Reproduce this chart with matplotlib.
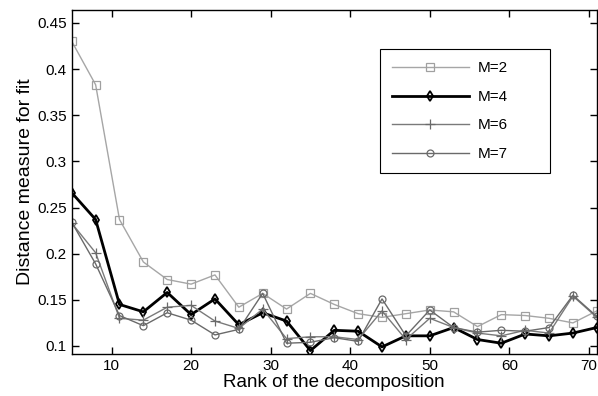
import numpy as np
import matplotlib
matplotlib.use("Agg")
import matplotlib.pyplot as plt
from matplotlib.ticker import FuncFormatter

plt.rcParams['font.family'] = ['Liberation Sans', 'DejaVu Sans']

# rank of the decomposition
ranks = [5, 8, 11, 14, 17, 20, 23, 26, 29, 32, 35, 38, 41, 44, 47, 50, 53, 56, 59, 62, 65, 68, 71]

# distance measure for each M
m2 = [0.430, 0.383, 0.237, 0.191, 0.172, 0.167, 0.177, 0.142, 0.157, 0.140, 0.157, 0.145,
      0.135, 0.131, 0.135, 0.139, 0.137, 0.121, 0.134, 0.133, 0.130, 0.125, 0.138]
m4 = [0.266, 0.237, 0.145, 0.137, 0.158, 0.134, 0.151, 0.123, 0.136, 0.127, 0.095, 0.117,
      0.116, 0.099, 0.111, 0.111, 0.120, 0.107, 0.103, 0.113, 0.111, 0.114, 0.120]
m6 = [0.233, 0.201, 0.130, 0.128, 0.142, 0.144, 0.127, 0.119, 0.140, 0.108, 0.110, 0.110,
      0.107, 0.138, 0.107, 0.130, 0.120, 0.114, 0.111, 0.117, 0.114, 0.154, 0.131]
m7 = [0.234, 0.189, 0.133, 0.122, 0.136, 0.128, 0.112, 0.118, 0.157, 0.103, 0.104, 0.109,
      0.105, 0.151, 0.111, 0.139, 0.120, 0.115, 0.117, 0.116, 0.120, 0.155, 0.132]

labels = ["M=2", "M=4", "M=6", "M=7"]

fig = plt.figure(figsize=(5.98, 3.96), dpi=100)
ax = fig.add_axes([0.12, 0.106, 0.878, 0.870])

ax.plot(ranks, m2, color='#a6a6a6', lw=1.0, marker='s', ms=5.2, mfc='none', mec='#a0a0a0', mew=0.9, label=labels[0])
ax.plot(ranks, m4, color='black', lw=2.0, marker='d', ms=5, mfc='none', mec='black', mew=1.3, label=labels[1])
ax.plot(ranks, m6, color='#7a7a7a', lw=1.0, marker='+', ms=7, mec='#6a6a6a', mew=0.9, label=labels[2])
ax.plot(ranks, m7, color='#6a6a6a', lw=1.0, marker='o', ms=5, mfc='none', mec='#6a6a6a', mew=0.9, label=labels[3])

ax.set_xlim(5, 71)
ax.set_ylim(0.0913, 0.4645)
ax.set_xticks([10, 20, 30, 40, 50, 60, 70])
ax.set_yticks([0.1, 0.15, 0.2, 0.25, 0.3, 0.35, 0.4, 0.45])
ax.yaxis.set_major_formatter(FuncFormatter(lambda v, p: '%g' % round(v, 2)))
ax.tick_params(direction='in', top=True, right=True, length=5, width=1, labelsize=11)
for s in ax.spines.values():
    s.set_linewidth(1.0)

ax.set_xlabel("Rank of the decomposition", fontsize=13.5, labelpad=1)
ax.set_ylabel("Distance measure for fit", fontsize=14, labelpad=2)

# legend box spans a fixed width like the matlab one
leg = ax.legend(loc='upper left', bbox_to_anchor=(0.587, 0.525, 0.324, 0.36), mode='expand',
                fontsize=11, handlelength=5.0, handletextpad=0.6, labelspacing=0.95,
                borderpad=0.8, borderaxespad=0, fancybox=False, framealpha=1)
leg.get_frame().set_edgecolor('black')
leg.get_frame().set_linewidth(0.8)

fig.savefig("out.png", dpi=100)
